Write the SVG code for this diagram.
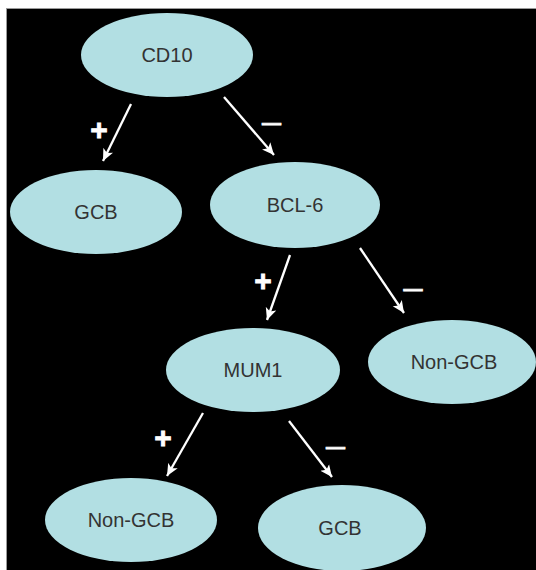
<svg xmlns="http://www.w3.org/2000/svg" width="536" height="570" viewBox="0 0 536 570">
<defs>
<marker id="ah" markerUnits="userSpaceOnUse" markerWidth="14" markerHeight="12" refX="12" refY="6" orient="auto">
<path d="M0,0.5 L12,6 L0,11.5 L3,6 Z" fill="#ffffff"/>
</marker>
<style>
.node ellipse{fill:#b2dfe3;}
.node text{font-family:"Liberation Sans",Arial,sans-serif;font-size:20px;fill:#333333;text-anchor:middle;}
.edge{stroke:#ffffff;stroke-width:2.3;fill:none;marker-end:url(#ah);}
.lbl{font-family:"Liberation Sans",Arial,sans-serif;font-weight:bold;fill:#ffffff;stroke:#ffffff;stroke-width:0.8;text-anchor:middle;}
.plus{font-size:30px;}
.minus{font-size:19px;}
</style>
</defs>
<rect x="0" y="0" width="536" height="570" fill="#ffffff"/>
<rect x="6.5" y="8.5" width="540" height="570" fill="#000000" stroke="#9a9a9a" stroke-width="1"/>
<g id="connectors">
<line class="edge" x1="131" y1="104" x2="103" y2="161"/>
<line class="edge" x1="224" y1="97" x2="274" y2="155"/>
<line class="edge" x1="290" y1="255" x2="267" y2="320"/>
<line class="edge" x1="360" y1="248" x2="404" y2="313"/>
<line class="edge" x1="203" y1="413" x2="167" y2="476"/>
<line class="edge" x1="289" y1="421" x2="332" y2="477"/>
<text class="lbl plus" x="99" y="139.6">+</text>
<text class="lbl minus" x="271.5" y="128.8">—</text>
<text class="lbl plus" x="263" y="290.6">+</text>
<text class="lbl minus" x="413" y="294.8">—</text>
<text class="lbl plus" x="163" y="447.6">+</text>
<text class="lbl minus" x="335.5" y="452.8">—</text>
</g>
<g id="cd10" class="node"><ellipse cx="167" cy="55" rx="86" ry="42"/><text x="167" y="62">CD10</text></g>
<g id="gcb1" class="node"><ellipse cx="96" cy="212" rx="86" ry="42"/><text x="96" y="219">GCB</text></g>
<g id="bcl6" class="node"><ellipse cx="295" cy="205" rx="85" ry="43"/><text x="295" y="212">BCL-6</text></g>
<g id="mum1" class="node"><ellipse cx="253" cy="370" rx="87" ry="42"/><text x="253" y="377">MUM1</text></g>
<g id="nongcb1" class="node"><ellipse cx="452" cy="362" rx="84" ry="42"/><text x="454" y="369">Non-GCB</text></g>
<g id="nongcb2" class="node"><ellipse cx="131" cy="520" rx="86" ry="42"/><text x="131" y="527">Non-GCB</text></g>
<g id="gcb2" class="node"><ellipse cx="342" cy="528" rx="84" ry="43"/><text x="340" y="535">GCB</text></g>
</svg>
